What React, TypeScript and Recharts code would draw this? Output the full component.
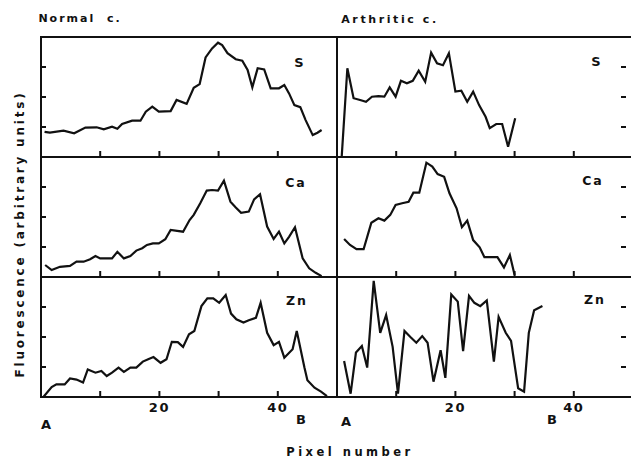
import React from 'react';
import { LineChart, Line, XAxis, YAxis, ReferenceArea, ReferenceLine } from 'recharts';

// [pixel number, fluorescence]
const normalS = [
  [0.6, 0.84], [1.5, 0.81], [3.8, 0.88], [5.6, 0.79], [7.5, 0.98], [9.4, 0.99], [10.6, 0.92],
  [12, 1.01], [12.9, 0.94], [13.7, 1.1], [15.4, 1.21], [16.8, 1.21], [17.7, 1.51], [18.8, 1.68],
  [19.9, 1.51], [21.9, 1.53], [22.9, 1.9], [24.6, 1.77], [25.8, 2.31], [26.8, 2.43], [27.8, 3.32],
  [28.9, 3.62], [29.9, 3.81], [30.6, 3.73], [31.5, 3.46], [32.9, 3.26], [34, 3.21], [34.9, 2.9],
  [35.7, 2.32], [36.6, 2.96], [37.7, 2.92], [38.8, 2.29], [40.2, 2.29], [41.1, 2.4], [41.9, 2.12],
  [42.8, 1.73], [43.8, 1.66], [44.7, 1.23], [45.9, 0.73], [46.7, 0.81], [47.4, 0.9],
];

const normalCa = [
  [0.7, 0.4], [1.8, 0.23], [3.2, 0.34], [4.9, 0.37], [6, 0.51], [7.2, 0.51], [8.3, 0.59],
  [9.2, 0.7], [10, 0.62], [12, 0.62], [12.9, 0.84], [14, 0.62], [15.1, 0.7], [16.1, 0.88],
  [17.1, 0.96], [17.9, 1.07], [18.9, 1.12], [19.9, 1.12], [21, 1.26], [21.9, 1.57], [23, 1.54],
  [24, 1.51], [25.1, 1.9], [25.8, 2.07], [26.9, 2.46], [28, 2.88], [28.9, 2.9], [29.9, 2.88],
  [30.9, 3.21], [32, 2.51], [32.9, 2.32], [33.8, 2.14], [35.1, 2.18], [36, 2.59], [37, 2.76],
  [38.2, 1.68], [39.3, 1.27], [40.2, 1.51], [41.1, 1.12], [41.9, 1.34], [42.9, 1.66],
  [44.2, 0.62], [45.3, 0.29], [46.4, 0.14], [47.4, 0.03],
];

const normalZn = [
  [0.4, 0], [1.8, 0.33], [2.6, 0.42], [4, 0.42], [4.9, 0.62], [6, 0.58], [7.1, 0.48], [7.9, 0.92],
  [9.2, 0.81], [10.2, 0.87], [11.1, 0.7], [12, 0.81], [13.1, 0.98], [14, 0.84], [15.1, 0.98],
  [16.1, 0.98], [17.2, 1.18], [18.1, 1.26], [19, 1.33], [20.2, 1.14], [21.2, 1.26], [22.1, 1.84],
  [23.1, 1.83], [24, 1.67], [25, 2.09], [25.9, 2.2], [27.1, 3.03], [28.1, 3.29], [29.1, 3.29],
  [30.1, 3.14], [31.2, 3.4], [32.1, 2.78], [33, 2.59], [34.2, 2.48], [35.1, 2.56], [36.3, 2.64],
  [37.1, 3.14], [38.2, 2.14], [39.3, 1.73], [40.2, 1.84], [41.1, 1.31], [42.5, 1.59], [43.2, 2.2],
  [44.5, 0.98], [45, 0.56], [46.2, 0.31], [47.3, 0.18], [48.3, 0.03],
];

const arthriticS = [
  [0.8, 0.03], [1.75, 2.96], [2.8, 1.96], [3.9, 1.9], [4.9, 1.84], [5.9, 2.01], [7, 2.03],
  [8, 2.01], [8.9, 2.32], [9.9, 2.01], [10.8, 2.54], [11.8, 2.46], [12.8, 2.54], [13.8, 2.88],
  [14.9, 2.51], [15.9, 3.48], [16.9, 3.12], [17.9, 3.06], [18.9, 3.46], [20, 2.18], [21, 2.21],
  [22, 1.84], [23, 2.18], [24, 1.73], [25.1, 1.34], [25.8, 0.96], [26.9, 1.1], [27.9, 1.1],
  [28.9, 0.34], [30.1, 1.29],
];

const arthriticCa = [
  [1.2, 1.27], [2.2, 1.07], [3.3, 0.93], [4.5, 0.93], [5.8, 1.81], [7, 1.96], [8, 1.88],
  [9, 2.07], [9.9, 2.4], [11, 2.46], [12.1, 2.51], [12.9, 2.81], [13.9, 2.81], [15.1, 3.81],
  [16.1, 3.68], [17, 3.43], [18.1, 3.34], [19, 2.79], [20.2, 2.29], [21.1, 1.66], [22, 1.88],
  [23, 1.23], [24.1, 0.99], [24.9, 0.66], [25.9, 0.66], [27.1, 0.66], [28.2, 0.32], [29.2, 0.73],
  [30, 0.07],
];

const arthriticZn = [
  [1.2, 1.2], [2.3, 0.11], [3.2, 1.48], [4.2, 1.7], [5.1, 0.98], [6.2, 3.87], [7.3, 2.14],
  [8.3, 2.73], [9.4, 1.67], [10.3, 0.11], [11.4, 2.2], [12.4, 2], [13.4, 1.81], [14.4, 2.03],
  [15.3, 1.81], [16.3, 0.51], [17.5, 1.56], [18.3, 0.64], [19.3, 3.42], [20.4, 3.18], [21.3, 1.53],
  [22.3, 3.37], [23.2, 3.14], [24.2, 3.03], [25.3, 3.22], [26.5, 1.18], [27.3, 2.67], [28.5, 2.14],
  [29.4, 1.87], [30.6, 0.29], [31.6, 0.18], [32.4, 2.14], [33.3, 2.89], [34.7, 3.03],
];

const xTicks = [10, 20, 30, 40];
const xLabelTicks = [20, 40];
const yTicks = [1, 2, 3];

const INK = '#111';
const FONT = '"DejaVu Sans", "Liberation Sans", Arial, sans-serif';
const PLOT_W = 296;
const PLOT_H = 120;
const M = 4;

const toRows = (pts: number[][]) => pts.map(([x, y]) => ({ x, y }));

// bottom tick marks point up into each panel; labels only on the lowest row
const XTick = (p: any) => (
  <g>
    <line x1={p.x} x2={p.x} y1={p.y} y2={p.y - 6} stroke={INK} strokeWidth={2} />
    {p.labels && xLabelTicks.includes(p.payload.value) ? (
      <text x={p.x} y={p.y + 15} textAnchor="middle" fill={INK}
        style={{ fontFamily: FONT, fontWeight: 700, fontSize: 13, letterSpacing: 1.5 }}>
        {p.payload.value}
      </text>
    ) : null}
  </g>
);

const LeftTick = (p: any) => (
  <line x1={p.x} x2={p.x + 5} y1={p.y} y2={p.y} stroke={INK} strokeWidth={2} />
);

// right column: short dashes just inside the (cut off) right edge
const RightTick = (p: any) => (
  <line x1={p.x - 12} x2={p.x - 7} y1={p.y} y2={p.y} stroke={INK} strokeWidth={2} />
);

function Panel({ left, top, points, right, bottomRow }: any) {
  const data = toRows(points);
  return (
    <div style={{ position: 'absolute', left: left - M, top: top - M }}>
      <LineChart
        width={PLOT_W + 2 * M}
        height={PLOT_H + 2 * M + (bottomRow ? 30 : 0)}
        data={data}
        margin={{ top: M, right: M, left: M, bottom: M + (bottomRow ? 30 : 0) }}
      >
        <XAxis dataKey="x" type="number" domain={[0, 50]} ticks={xTicks} interval={0}
          mirror axisLine={false} tickLine={false} tickSize={0} tickMargin={0}
          tick={<XTick labels={!!bottomRow} />} />
        <YAxis type="number" domain={[0, 4]} ticks={yTicks} interval={0}
          orientation={right ? 'right' : 'left'} mirror
          axisLine={false} tickLine={false} tickSize={0} tickMargin={0}
          tick={right ? <RightTick /> : <LeftTick />} />
        <ReferenceArea x1={0} x2={50} y1={0} y2={4} fill="none" stroke={INK} strokeWidth={2} />
        <Line type="linear" dataKey="y" stroke={INK} strokeWidth={2.2} dot={false}
          isAnimationActive={false} />
      </LineChart>
    </div>
  );
}

const Txt = ({ x, y, size = 12, spacing = 2, children, rotate }: any) => (
  <div
    style={{
      position: 'absolute', left: x, top: y, whiteSpace: 'nowrap',
      transform: `translate(-50%, -50%)${rotate ? ` rotate(${rotate}deg)` : ''}`,
      fontFamily: FONT, fontWeight: 700, fontSize: size, letterSpacing: spacing, color: INK,
      lineHeight: 1,
    }}
  >
    {children}
  </div>
);

export default function App() {
  const rows = [37, 157, 277];
  return (
    <div style={{ position: 'absolute', left: 0, top: 0, width: 631, height: 459, overflow: 'hidden', background: '#fff' }}>
      <Panel left={41} top={rows[0]} points={normalS} />
      <Panel left={41} top={rows[1]} points={normalCa} />
      <Panel left={41} top={rows[2]} points={normalZn} bottomRow />
      <Panel left={337} top={rows[0]} points={arthriticS} right />
      <Panel left={337} top={rows[1]} points={arthriticCa} right />
      <Panel left={337} top={rows[2]} points={arthriticZn} right bottomRow />

      <Txt x={80} y={18} size={11} spacing={2}>Normal&nbsp; c.</Txt>
      <Txt x={390} y={19} size={11} spacing={2.6}>Arthritic c.</Txt>

      <Txt x={300} y={62} size={13}>S</Txt>
      <Txt x={296} y={183} size={12.5}>Ca</Txt>
      <Txt x={297} y={301} size={12.5}>Zn</Txt>
      <Txt x={597} y={61} size={13}>S</Txt>
      <Txt x={593} y={181} size={12.5}>Ca</Txt>
      <Txt x={595} y={300} size={12.5}>Zn</Txt>

      <Txt x={47} y={424} size={13}>A</Txt>
      <Txt x={302} y={419} size={13}>B</Txt>
      <Txt x={347} y={421} size={13}>A</Txt>
      <Txt x={553} y={419} size={13}>B</Txt>

      <Txt x={20} y={234} size={12} spacing={2.8} rotate={-90}>Fluorescence (arbitrary units)</Txt>
      <Txt x={350} y={453} size={11.5} spacing={3.5}>Pixel number</Txt>
    </div>
  );
}
